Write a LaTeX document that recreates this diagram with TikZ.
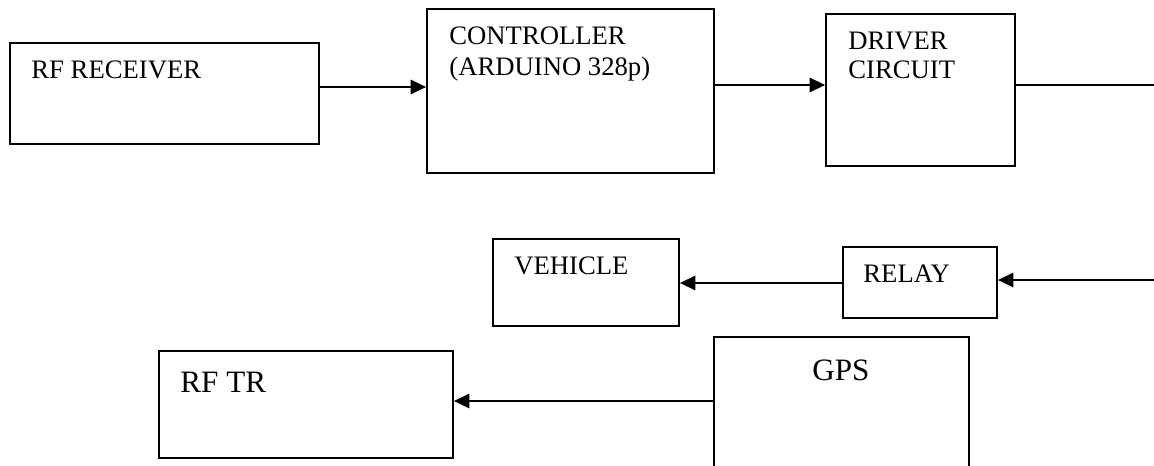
\documentclass[tikz,border=0pt]{standalone}
\usepackage{fontspec}
\setmainfont{Liberation Serif}
\usetikzlibrary{arrows.meta}
\begin{document}
\begin{tikzpicture}[x=0.45pt,y=-0.45pt,
  box/.style={draw,line width=0.8pt,inner sep=0pt,rectangle},
  lbl/.style={inner sep=0pt,anchor=base west,font=\fontsize{12}{14}\selectfont},
  biglbl/.style={inner sep=0pt,anchor=base west,font=\fontsize{14}{16}\selectfont},
  arr/.style={line width=0.8pt,-{Triangle[length=7pt,width=6.5pt]}},
  ln/.style={line width=0.8pt}]
\clip (0,0) rectangle (1154,465);
% boxes
\node[box,minimum width=139.05pt,minimum height=45.45pt] (rfrx) at (164.5,93.5) {};
\node[box,minimum width=129.15pt,minimum height=73.8pt] (ctrl) at (570.5,91) {};
\node[box,minimum width=85.05pt,minimum height=68.4pt] (drv) at (920.5,90) {};
\node[box,minimum width=83.7pt,minimum height=39.15pt] (veh) at (586,282.5) {};
\node[box,minimum width=69.3pt,minimum height=31.95pt] (rly) at (920,282.5) {};
\node[box,minimum width=132.3pt,minimum height=48.15pt] (rftr) at (306,404.5) {};
\node[box,minimum width=114.75pt,minimum height=74.7pt] (gps) at (841.5,420) {};
% labels
\node[lbl] (trx) at (31,78) {RF RECEIVER};
\node[lbl] (tc1) at (449,44) {CONTROLLER};
\node[lbl] (tc2) at (449,75) {(ARDUINO 328p)};
\node[lbl] (td1) at (848,49) {DRIVER};
\node[lbl] (td2) at (848,78) {CIRCUIT};
\node[lbl] (tv) at (514,274) {VEHICLE};
\node[lbl] (tr) at (863,282) {RELAY};
\node[biglbl] (ttr) at (180,392) {RF TR};
\node[biglbl] (tg) at (812,380) {GPS};
% levels
\coordinate (l1) at (0,87);
\coordinate (l2) at (0,85);
\coordinate (l3) at (0,283);
\coordinate (l4) at (0,401);
\coordinate (out1) at (1154,85);
\coordinate (in2) at (1154,280);
% connectors
\draw[arr] (rfrx.east |- l1) -- (ctrl.west |- l1);
\draw[arr] (ctrl.east |- l2) -- (drv.west |- l2);
\draw[ln] (drv.east |- l2) -- (out1);
\draw[arr] (in2) -- (rly.east |- in2);
\draw[arr] (rly.west |- l3) -- (veh.east |- l3);
\draw[arr] (gps.west |- l4) -- (rftr.east |- l4);
\end{tikzpicture}
\end{document}
